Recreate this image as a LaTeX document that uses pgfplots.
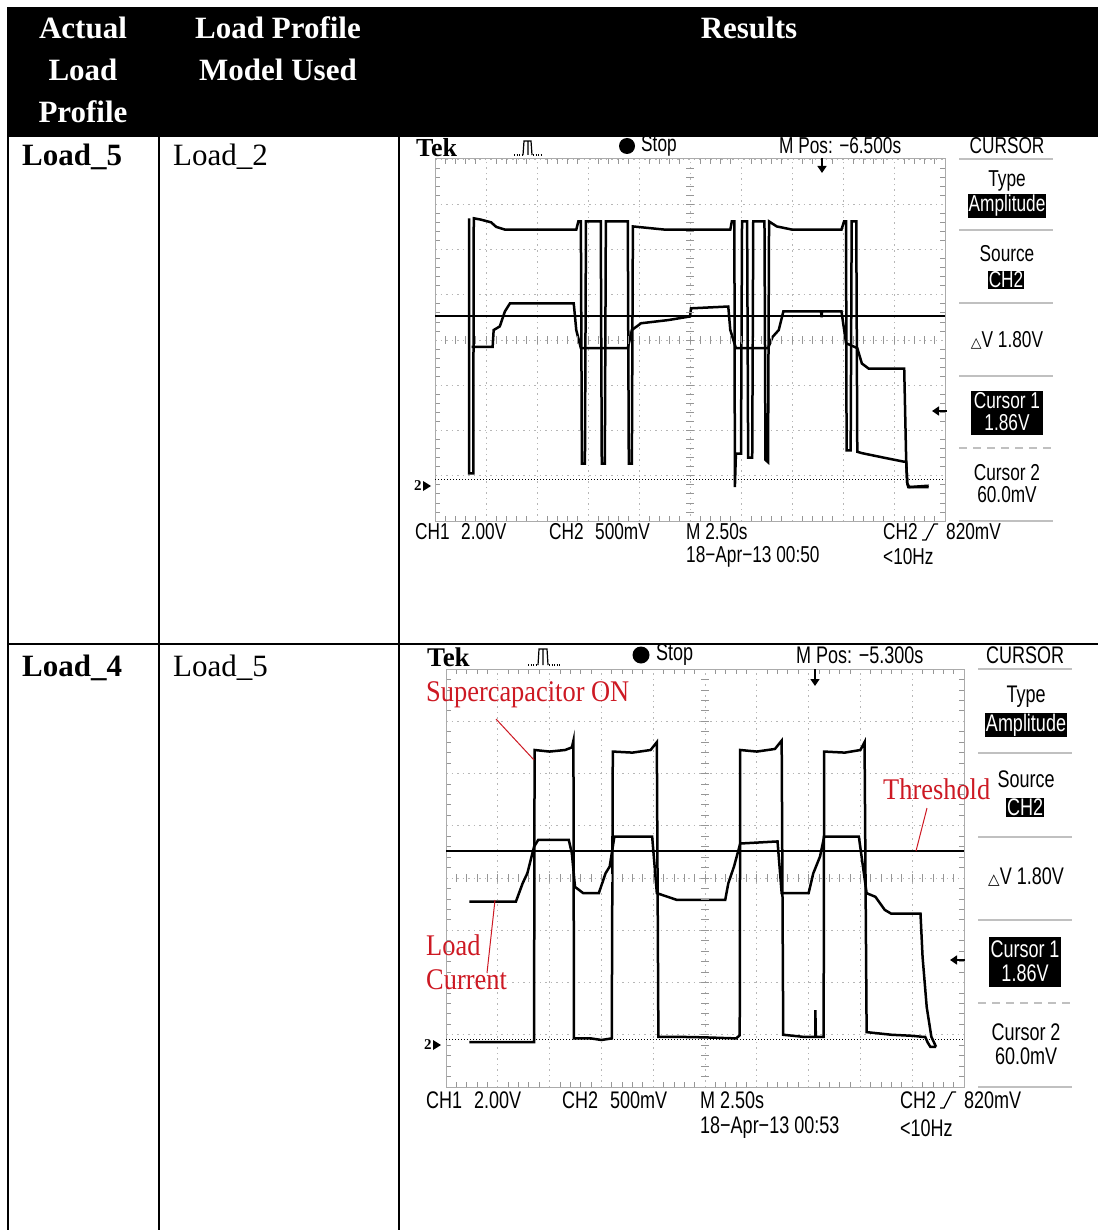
\documentclass[border=0pt]{standalone}
\usepackage{pgfplots}
\pgfplotsset{compat=1.18}
\usepackage{fontspec}
\setmainfont{Liberation Serif}
\newfontfamily\scopefont[FakeStretch=0.75]{Liberation Sans}
\newfontfamily\redfont[FakeStretch=0.88]{Liberation Serif}
\newfontfamily\symfont{DejaVu Sans}
\usetikzlibrary{arrows.meta}

\definecolor{annot}{RGB}{205,25,35}
\definecolor{gridc}{RGB}{150,150,150}

% oscilloscope screen: 10 x 8 divisions
\pgfplotsset{
  tekscreen/.style={
    scale only axis, anchor=south west,
    xmin=0, xmax=10, ymin=0, ymax=8,
    xtick={0,...,10}, ytick={0,...,8},
    xticklabels={}, yticklabels={},
    major tick length=0pt,
    minor x tick num=4, minor y tick num=4,
    minor tick length=5pt, tick align=inside,
    minor tick style={gridc, line width=0.8pt},
    grid=major,
    major grid style={gridc!70, line width=0.9pt, dash pattern=on 1.5pt off 4pt},
    axis line style={gridc!80, line width=1pt},
    clip=false,
  },
  tektrace/.style={black, line width=2.5pt, line join=miter},
}

\begin{document}
\begin{tikzpicture}[x=1pt, y=1pt]
\useasboundingbox (0,0) rectangle (1100,-1230);

% ---- table frame ----
\fill[black] (7,-7) rectangle (1098,-137);
\draw[line width=2pt] (8,-137) -- (8,-1230);
\draw[line width=2pt] (159,-137) -- (159,-1230);
\draw[line width=2pt] (399,-137) -- (399,-1230);
\draw[line width=2pt] (7,-644) -- (1098,-644);

\node[text=white, align=center, font=\bfseries\fontsize{31}{42}\selectfont] at (83,-70) {Actual\\Load\\Profile};
\node[text=white, align=center, font=\bfseries\fontsize{31}{42}\selectfont] at (278,-49) {Load Profile\\Model Used};
\node[text=white, font=\bfseries\fontsize{31}{42}\selectfont] at (749,-28) {Results};

\node[anchor=base west, inner sep=0, font=\bfseries\fontsize{31}{36}\selectfont] at (22,-166) {Load\_5};
\node[anchor=base west, inner sep=0, font=\fontsize{31}{36}\selectfont] at (173,-166) {Load\_2};
\node[anchor=base west, inner sep=0, font=\bfseries\fontsize{31}{36}\selectfont] at (22,-676) {Load\_4};
\node[anchor=base west, inner sep=0, font=\fontsize{31}{36}\selectfont] at (173,-676) {Load\_5};

% ================= scope 1 =================
\begin{axis}[tekscreen, at={(435pt,-521pt)}, width=510pt, height=362pt]
% CH1 (supercapacitor switch)
\addplot[tektrace] coordinates {
(0.67,6.69) (0.67,1.05) (0.75,1.05) (0.76,6.69) (0.9,6.66) (1.1,6.60) (1.2,6.50)
(1.37,6.44) (2.0,6.44) (2.77,6.44) (2.81,6.62) (2.86,6.62) (2.88,1.27) (2.94,1.27)
(2.96,6.62) (3.25,6.62) (3.27,1.27) (3.33,1.27) (3.35,6.62) (3.78,6.62) (3.80,1.27)
(3.86,1.27) (3.88,6.51) (4.5,6.44) (5.79,6.44) (5.82,6.62) (5.87,6.62) (5.88,0.75)
(5.90,1.49) (6.00,1.49) (6.02,6.62) (6.12,6.62) (6.14,1.40) (6.22,1.40) (6.24,6.62)
(6.46,6.62) (6.48,1.35) (6.53,1.30) (6.55,6.62) (6.70,6.51) (7.0,6.44) (7.97,6.44)
(8.02,6.62) (8.06,6.62) (8.07,1.56) (8.15,1.56) (8.17,6.62) (8.26,6.62) (8.28,1.53)
(8.37,1.50) (8.8,1.40) (9.20,1.31) (9.24,1.31) (9.26,0.83) (9.30,0.75) (9.68,0.78)
};
% CH2 (load current)
\addplot[tektrace] coordinates {
(0.72,3.85) (1.13,3.85) (1.15,4.22) (1.27,4.30) (1.37,4.63) (1.47,4.81) (2.0,4.81)
(2.72,4.81) (2.77,4.22) (2.86,3.82) (3.78,3.82) (3.86,4.22) (4.04,4.37) (4.57,4.44)
(5.0,4.52) (5.02,4.70) (5.75,4.74) (5.79,4.22) (5.90,3.82) (6.53,3.82) (6.62,4.07)
(6.74,4.22) (6.83,4.63) (7.57,4.63) (7.58,4.50) (7.59,4.63) (7.97,4.63) (8.06,3.93)
(8.28,3.82) (8.37,3.48) (8.50,3.37) (9.20,3.37) (9.24,1.27) (9.26,0.83) (9.28,0.75)
(9.68,0.75)
};
% threshold cursor and cursor 2
\addplot[black, line width=1.6pt] coordinates {(0,4.53) (10,4.53)};
\addplot[black, line width=1.4pt, dash pattern=on 1.4pt off 1.6pt] coordinates {(0,0.92) (10,0.92)};
\end{axis}

% ================= scope 2 =================
\begin{axis}[tekscreen, at={(446pt,-1087pt)}, width=518pt, height=418pt]
\addplot[tektrace] coordinates {
(0.45,0.86) (1.0,0.86) (1.70,0.86) (1.71,6.45) (2.0,6.42) (2.3,6.45) (2.43,6.50)
(2.46,6.63) (2.47,0.93) (2.8,0.93) (3.0,0.90) (3.20,0.93) (3.22,6.42) (3.6,6.40)
(3.95,6.45) (4.07,6.60) (4.10,0.96) (4.5,0.96) (5.0,0.95) (5.60,0.93) (5.67,0.99)
(5.68,6.45) (6.0,6.42) (6.35,6.47) (6.48,6.63) (6.51,1.00) (6.9,0.96) (7.13,0.96)
(7.13,1.47) (7.14,0.96) (7.29,0.96) (7.30,6.42) (7.7,6.40) (8.0,6.45) (8.08,6.60)
(8.12,1.05) (8.6,1.00) (9.0,0.98) (9.20,0.96) (9.25,0.96) (9.30,0.85) (9.35,0.77)
(9.46,0.77)
};
\addplot[tektrace] coordinates {
(0.45,3.55) (1.35,3.55) (1.48,3.90) (1.57,4.09) (1.70,4.60) (1.78,4.73) (2.37,4.73)
(2.43,4.47) (2.49,3.83) (2.65,3.71) (2.95,3.71) (3.08,4.09) (3.16,4.22) (3.25,4.79)
(3.98,4.79) (4.07,3.71) (4.28,3.64) (4.46,3.58) (5.39,3.58) (5.45,3.90) (5.56,4.22)
(5.68,4.66) (6.40,4.70) (6.48,3.71) (7.00,3.71) (7.09,4.09) (7.22,4.41) (7.30,4.79)
(7.97,4.79) (8.12,3.71) (8.29,3.64) (8.47,3.39) (8.59,3.32) (9.16,3.32) (9.20,2.49)
(9.28,1.53) (9.37,0.96) (9.46,0.77)
};
\addplot[black, line width=1.6pt] coordinates {(0,4.52) (10,4.52)};
\addplot[black, line width=1.4pt, dash pattern=on 1.4pt off 1.6pt] coordinates {(0,0.91) (10,0.91)};
\end{axis}

% centre cross ticks of both screens
\foreach \k in {1,...,49} {
  \draw[gridc, line width=0.8pt] ({435+\k*10.2},-336) -- ({435+\k*10.2},-344);
  \draw[gridc, line width=0.8pt] ({446+\k*10.36},-874) -- ({446+\k*10.36},-882);
}
\foreach \k in {1,...,39} {
  \draw[gridc, line width=0.8pt] (686,{-159-\k*9.05}) -- (694,{-159-\k*9.05});
  \draw[gridc, line width=0.8pt] (701,{-669-\k*10.45}) -- (709,{-669-\k*10.45});
}

% ---- scope 1 lettering ----
\begin{scope}[every node/.style={inner sep=0, font=\scopefont\fontsize{23}{26}\selectfont}]
\node[anchor=west, font=\bfseries\fontsize{26}{28}\selectfont] at (416,-148) {Tek};
\draw[line width=1.2pt, dash pattern=on 1pt off 1.5pt] (514,-155) -- (523,-155);
\draw[line width=1.2pt] (523,-155) -- (524,-141) -- (531,-141) -- (532,-155) (528,-141) -- (528,-155);
\draw[line width=1.2pt, dash pattern=on 1pt off 1.5pt] (533,-155) -- (543,-155);
\fill (627,-146) circle (8);
\node[anchor=west] at (641,-146) {Stop};
\node[anchor=west] at (779,-146) {M Pos: −6.500s};
\node at (1007,-146) {CURSOR};
\draw[-{Triangle[length=7pt,width=9pt]}, line width=1.6pt] (822,-158) -- (822,-173);
\draw[-{Triangle[length=7pt,width=9pt]}, line width=1.6pt] (947,-411) -- (932,-411);
\node[anchor=west, font=\bfseries\fontsize{15}{16}\selectfont] at (414,-486) {2};
\fill (423,-481) -- (431,-486) -- (423,-491) -- cycle;
\foreach \y in {159,230,303,376,521} \draw[gridc!60, line width=1.5pt] (959,-\y) -- (1053,-\y);
\draw[gridc!60, line width=1.5pt, dash pattern=on 8pt off 6pt] (959,-448) -- (1053,-448);
\node at (1007,-181) {Type};
\node[fill=black, text=white, inner sep=1pt] at (1007,-206) {Amplitude};
\node at (1007,-254) {Source};
\node[fill=black, text=white, inner sep=1pt] at (1006,-280) {CH2};
\node at (1007,-340) {{\symfont\fontsize{14}{14}\selectfont △}V 1.80V};
\fill[black] (971,-391) rectangle (1043,-435);
\node[text=white] at (1007,-401) {Cursor 1};
\node[text=white] at (1007,-423) {1.86V};
\node at (1007,-473) {Cursor 2};
\node at (1007,-495) {60.0mV};
\node[anchor=west] at (415,-532) {CH1\enspace 2.00V};
\node[anchor=west] at (549,-532) {CH2\enspace 500mV};
\node[anchor=west] at (686,-532) {M 2.50s};
\node[anchor=west] at (883,-532) {CH2};
\draw[line width=1.2pt] (922,-540) -- (926,-540) -- (934,-524) -- (938,-524);
\node[anchor=west] at (946,-532) {820mV};
\node[anchor=west] at (686,-557) {18−Apr−13 00:50};
\node[anchor=west] at (883,-557) {<10Hz};
\end{scope}

% ---- scope 2 lettering ----
\begin{scope}[every node/.style={inner sep=0, font=\scopefont\fontsize{24}{27}\selectfont}]
\node[anchor=west, font=\bfseries\fontsize{27}{28}\selectfont] at (427,-657) {Tek};
\draw[line width=1.2pt, dash pattern=on 1pt off 1.5pt] (528,-665) -- (538,-665);
\draw[line width=1.2pt] (538,-665) -- (539,-649) -- (547,-649) -- (548,-665) (543,-649) -- (543,-665);
\draw[line width=1.2pt, dash pattern=on 1pt off 1.5pt] (549,-665) -- (560,-665);
\fill (641,-655) circle (8.5);
\node[anchor=west] at (656,-655) {Stop};
\node[anchor=west] at (796,-655) {M Pos: −5.300s};
\node at (1025,-655) {CURSOR};
\draw[-{Triangle[length=7pt,width=9pt]}, line width=1.6pt] (815,-669) -- (815,-686);
\draw[-{Triangle[length=7pt,width=9pt]}, line width=1.6pt] (965,-960) -- (950,-960);
\node[anchor=west, font=\bfseries\fontsize{15}{16}\selectfont] at (424,-1045) {2};
\fill (433,-1040) -- (441,-1045) -- (433,-1050) -- cycle;
\foreach \y in {669,753,837,920,1087} \draw[gridc!60, line width=1.5pt] (978,-\y) -- (1072,-\y);
\draw[gridc!60, line width=1.5pt, dash pattern=on 8pt off 6pt] (978,-1003) -- (1072,-1003);
\node at (1026,-697) {Type};
\node[fill=black, text=white, inner sep=1pt] at (1026,-725) {Amplitude};
\node at (1026,-779) {Source};
\node[fill=black, text=white, inner sep=1pt] at (1025,-807) {CH2};
\node at (1026,-877) {{\symfont\fontsize{15}{15}\selectfont △}V 1.80V};
\fill[black] (989,-937) rectangle (1061,-987);
\node[text=white] at (1025,-949) {Cursor 1};
\node[text=white] at (1025,-973) {1.86V};
\node at (1026,-1032) {Cursor 2};
\node at (1026,-1056) {60.0mV};
\node[anchor=west] at (426,-1100) {CH1\enspace 2.00V};
\node[anchor=west] at (562,-1100) {CH2\enspace 500mV};
\node[anchor=west] at (700,-1100) {M 2.50s};
\node[anchor=west] at (900,-1100) {CH2};
\draw[line width=1.2pt] (940,-1108) -- (944,-1108) -- (952,-1092) -- (956,-1092);
\node[anchor=west] at (964,-1100) {820mV};
\node[anchor=west] at (700,-1128) {18−Apr−13 00:53};
\node[anchor=west] at (900,-1128) {<10Hz};
\end{scope}

% ---- red annotations ----
\begin{scope}[every node/.style={inner sep=0, text=annot, font=\redfont\fontsize{30}{34}\selectfont}]
\node[anchor=west] at (426,-695) {Supercapacitor ON};
\node[anchor=west] at (883,-789) {Threshold};
\node[anchor=west] at (426,-945) {Load};
\node[anchor=west] at (426,-980) {Current};
\draw[annot, line width=1pt] (496,-719) -- (534,-760);
\draw[annot, line width=1pt] (927,-808) -- (916,-851);
\draw[annot, line width=1pt] (495,-900) -- (487,-973);
\end{scope}
\end{tikzpicture}
\end{document}
